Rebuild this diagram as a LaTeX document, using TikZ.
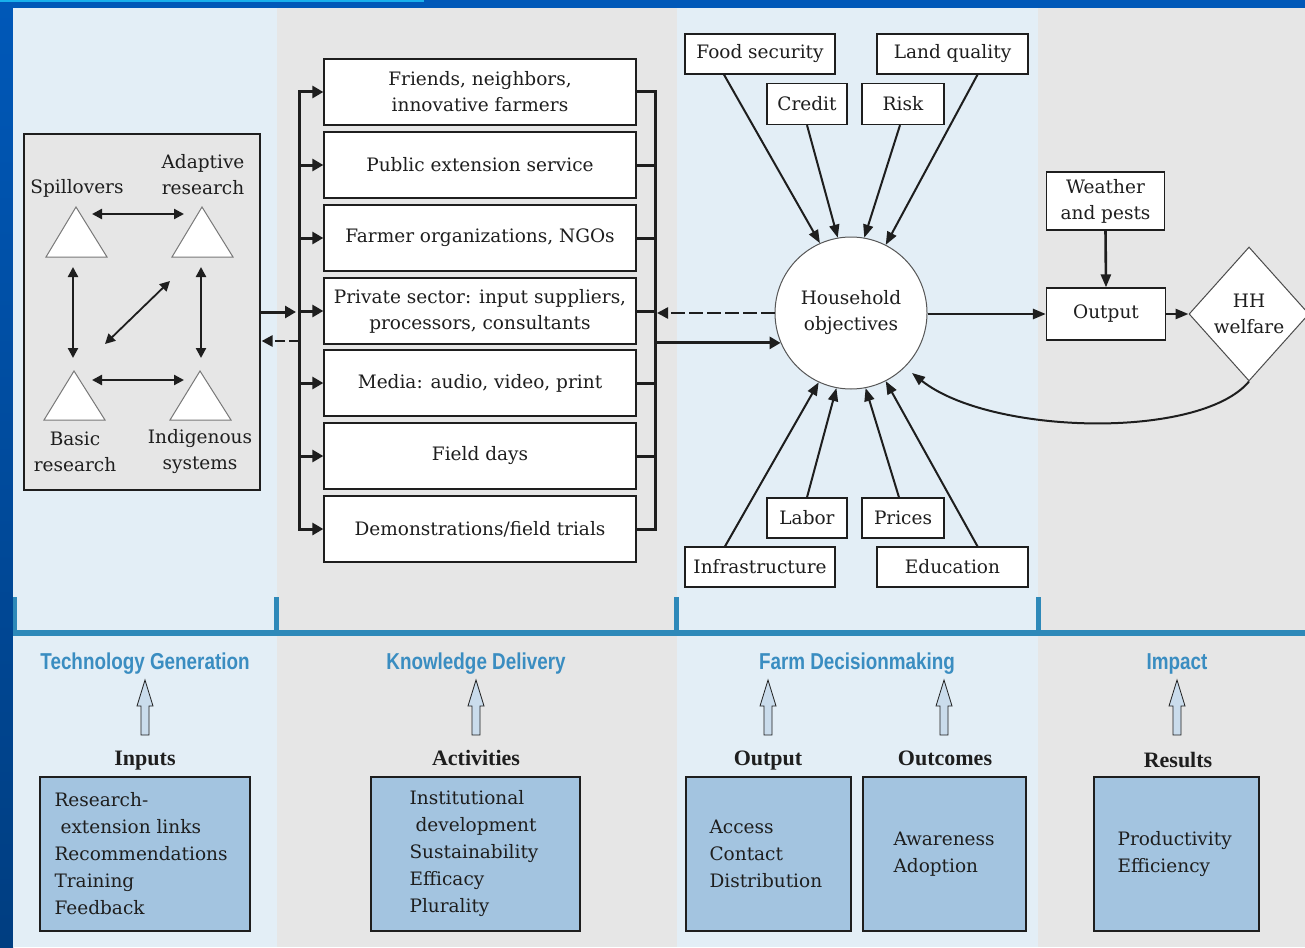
\documentclass[tikz,border=0pt]{standalone}
\usepackage{fontspec}
\setmainfont{DejaVu Serif}
\newfontfamily\titlefont[FakeStretch=0.82]{Liberation Sans}
\newfontfamily\lblfont{Liberation Serif}
\usetikzlibrary{arrows.meta,shapes.geometric,calc}
\definecolor{paneblue}{HTML}{E3EEF6}
\definecolor{panegray}{HTML}{E6E6E6}
\definecolor{framedark}{HTML}{0058B8}
\definecolor{framecyan}{HTML}{18B0EC}
\definecolor{barblue}{HTML}{2E89B9}
\definecolor{titleblue}{HTML}{3A8DC1}
\definecolor{boxblue}{HTML}{A3C4E0}
\definecolor{hollow}{HTML}{CADCEC}
\definecolor{ink}{HTML}{1E1E1E}
\begin{document}
\begin{tikzpicture}[x=1pt,y=-1pt,
  font=\fontsize{18.5}{26}\selectfont, text=ink,
  wbox/.style={draw=ink, line width=1.3pt, fill=white, inner sep=0pt, align=center},
  bbox/.style={draw=ink, line width=1.3pt, fill=boxblue, inner sep=0pt},
  btxt/.style={align=left, inner sep=0pt, font=\fontsize{18.5}{27}\selectfont},
  ttl/.style={font=\titlefont\bfseries\fontsize{23}{26}\selectfont, text=titleblue, inner sep=0pt},
  lbl/.style={font=\lblfont\bfseries\fontsize{22}{24}\selectfont, inner sep=0pt, anchor=base},
  plain/.style={inner sep=0pt, align=center},
  tri/.style={draw=ink!60, line width=1pt, fill=white, line join=miter},
  tarr/.style={draw=ink, line width=2pt, -{Triangle[length=13pt,width=10pt]}},
  darr/.style={draw=ink, line width=2.3pt, {Triangle[length=10pt,width=10pt]}-{Triangle[length=10pt,width=10pt]}},
  busline/.style={draw=ink, line width=3pt, line cap=rect},
  busarr/.style={draw=ink, line width=3pt, -{Triangle[length=11pt,width=12pt]}},
  hollowarr/.style={draw=ink, line width=0.8pt, fill=hollow, line join=miter}
]
\useasboundingbox (0,0) rectangle (1305,947);
% background frame and panels
\fill[framedark] (0,0) rectangle (1305,947);
\shade[top color=framedark, bottom color=framedark!70!black] (0,0) rectangle (13,947);
\fill[framecyan] (0,0) rectangle (424,2.5);
\fill[paneblue] (13,8) rectangle (277,947);
\fill[panegray] (277,8) rectangle (677,947);
\fill[paneblue] (677,8) rectangle (1038,947);
\fill[panegray] (1038,8) rectangle (1305,947);
% bottom bar
\fill[barblue] (13,630) rectangle (1305,636);
\fill[barblue] (13,597) rectangle (17,636);
\fill[barblue] (274,597) rectangle (279,636);
\fill[barblue] (674,597) rectangle (679,636);
\fill[barblue] (1036,597) rectangle (1041,636);

% ---------- technology generation box
\node[draw=ink, line width=1.2pt, fill=panegray, minimum width=236pt, minimum height=356pt, inner sep=0pt] (tg) at (142,312) {};
\draw[tri] (76,207) -- (107,257) -- (46,257) -- cycle;
\draw[tri] (202,207) -- (233,257) -- (172,257) -- cycle;
\draw[tri] (74,371) -- (105,420) -- (44,420) -- cycle;
\draw[tri] (200,371) -- (231,420) -- (170,420) -- cycle;
\node[plain] (spill) at (77,188) {Spillovers};
\node[plain] (adapt) at (203,175) {Adaptive\\research};
\node[plain] (basic) at (75,452) {Basic\\research};
\node[plain] (indig) at (200,452) {Indigenous\\systems};
\coordinate (a1) at (92,214); \coordinate (a2) at (184,214);
\coordinate (b1) at (92,380); \coordinate (b2) at (184,380);
\coordinate (l1) at (73,267); \coordinate (l2) at (73,358);
\coordinate (r1) at (201,267); \coordinate (r2) at (201,358);
\coordinate (d1) at (105,344); \coordinate (d2) at (170,281);
\draw[darr] (a1) -- (a2);
\draw[darr] (b1) -- (b2);
\draw[darr] (l1) -- (l2);
\draw[darr] (r1) -- (r2);
\draw[darr, line width=1.8pt] (d1) -- (d2);

% ---------- knowledge delivery boxes
\foreach \n/\y/\t in {m1/92/{Friends, neighbors,\\innovative farmers},
                       m2/165/{Public extension service},
                       m3/238/{Farmer organizations, NGOs},
                       m4/311/{Private sector: input suppliers,\\processors, consultants},
                       m5/383/{Media: audio, video, print},
                       m6/456/{Field days},
                       m7/529/{Demonstrations/field trials}}
  {\node[wbox, minimum width=312pt, minimum height=66pt] (\n) at (480,\y) {\t};}
\coordinate (lbus) at (299,0);
\coordinate (rbus) at (655,0);
\draw[busline] (m7.west -| lbus) -- (m1.west -| lbus);
\foreach \n in {m1,m2,m3,m4,m5,m6,m7}
  \draw[busarr, line cap=rect] (\n.west -| lbus) -- (\n.west);
\draw[busline] (m1.east) -- (m1.east -| rbus) -- (m7.east -| rbus) -- (m7.east);
\foreach \n in {m2,m3,m4,m5,m6}
  \draw[busline, line cap=butt] (\n.east) -- (\n.east -| rbus);
\draw[busarr, shorten >=3pt] (tg.east) -- (tg.east -| lbus);
\coordinate (tgd) at ($(tg.east)+(0,29)$);
\draw[draw=ink, line width=2.8pt, dash pattern=on 10pt off 4pt, -{Triangle[length=11pt,width=11pt]}, shorten >=1pt] (tgd -| lbus) -- (tgd);

% ---------- farm decisionmaking
\node[draw=ink!75, line width=1pt, fill=white, circle, minimum size=152pt, inner sep=0pt, align=center] (obj) at (851,313) {Household\\objectives};
\node[wbox, minimum width=150pt, minimum height=40pt] (food) at (760,54) {Food security};
\node[wbox, minimum width=151pt, minimum height=40pt] (land) at (952.5,54) {Land quality};
\node[wbox, minimum width=80pt, minimum height=41pt] (credit) at (807,104) {Credit};
\node[wbox, minimum width=82pt, minimum height=41pt] (risk) at (903,104) {Risk};
\node[wbox, minimum width=80pt, minimum height=40pt] (labor) at (807,518) {Labor};
\node[wbox, minimum width=82pt, minimum height=40pt] (prices) at (903,518) {Prices};
\node[wbox, minimum width=150pt, minimum height=40pt] (infra) at (760,567) {Infrastructure};
\node[wbox, minimum width=151pt, minimum height=40pt] (edu) at (952.5,567) {Education};
\draw[tarr] ([xshift=-36pt]food.south) -- (obj.114);
\draw[tarr] (credit.south) -- (obj.100);
\draw[tarr] ([xshift=-3pt]risk.south) -- (obj.80);
\draw[tarr] ([xshift=25pt]land.south) -- (obj.63);
\draw[tarr] ([xshift=-35pt]infra.north) -- (obj.245);
\draw[tarr] (labor.north) -- (obj.259);
\draw[tarr] ([xshift=-4pt]prices.north) -- (obj.281);
\draw[tarr] ([xshift=25pt]edu.north) -- (obj.297);
\draw[draw=ink, line width=2.4pt, dash pattern=on 14pt off 4pt, -{Triangle[length=11pt,width=11pt]}, shorten >=2pt] (obj.west) -- (obj.west -| rbus);
\draw[busarr] (obj.203 -| rbus) -- (obj.203);

% ---------- impact
\node[wbox, minimum width=118pt, minimum height=58pt] (wea) at (1105.5,201) {Weather\\and pests};
\node[wbox, minimum width=119pt, minimum height=52pt] (out) at (1106,314) {Output};
\node[draw=ink!80, line width=1pt, fill=white, diamond, minimum width=120pt, minimum height=134pt, inner sep=0pt, align=center] (hh) at (1249,314) {HH\\welfare};
\draw[tarr, line width=2.8pt] (obj.east |- out.west) -- (out.west);
\draw[tarr, line width=2.6pt] (wea.south) -- (out.north);
\draw[tarr, line width=2.6pt] (out.east) -- (hh.west);
\draw[tarr] (hh.south) .. controls (1200,440) and (990,435) .. (912,373);

% ---------- bottom legend
\node[ttl] (t1) at (145,664) {Technology Generation};
\node[ttl] (t2) at (476,664) {Knowledge Delivery};
\node[ttl] (t3) at (857,664) {Farm Decisionmaking};
\node[ttl] (t4) at (1177,664) {Impact};
\foreach \x in {145,476,768,944,1177}
  \draw[hollowarr] (\x,680) -- ++(8,26) -- ++(-4,0) -- ++(0,29) -- ++(-8,0) -- ++(0,-29) -- ++(-4,0) -- cycle;
\node[lbl] (linp) at (145,765) {Inputs};
\node[lbl] (lact) at (476,765) {Activities};
\node[lbl] (lout) at (768,765) {Output};
\node[lbl] (loc) at (945,765) {Outcomes};
\node[lbl] (lres) at (1178,767) {Results};
\node[bbox, minimum width=210pt, minimum height=154pt] (binp) at (145,854) {};
\node[bbox, minimum width=209pt, minimum height=154pt] (bact) at (475.5,854) {};
\node[bbox, minimum width=165pt, minimum height=154pt] (bout) at (768.5,854) {};
\node[bbox, minimum width=163pt, minimum height=154pt] (boc) at (944.5,854) {};
\node[bbox, minimum width=165pt, minimum height=154pt] (bres) at (1176.5,854) {};
\node[btxt, anchor=west] (xinp) at ([xshift=15pt]binp.west) {Research-\\\hspace*{6pt}extension links\\Recommendations\\Training\\Feedback};
\node[btxt, anchor=west] (xact) at ([xshift=39pt]bact.west) {Institutional\\\hspace*{6pt}development\\Sustainability\\Efficacy\\Plurality};
\node[btxt, anchor=west] (xout) at ([xshift=24pt]bout.west) {Access\\Contact\\Distribution};
\node[btxt, anchor=west] (xoc) at ([xshift=31pt]boc.west) {Awareness\\Adoption};
\node[btxt, anchor=west] (xres) at ([xshift=24pt]bres.west) {Productivity\\Efficiency};
\end{tikzpicture}
\end{document}
